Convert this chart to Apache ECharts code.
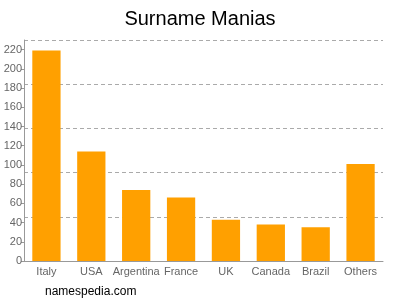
<!DOCTYPE html>
<html>
<head>
<meta charset="utf-8">
<script src="https://cdn.jsdelivr.net/npm/echarts@6/dist/echarts.min.js"></script>
<style>html,body{margin:0;padding:0;background:#fff}#c{width:400px;height:300px}</style>
</head>
<body>
<div id="c"></div>
<script>
var categories = ["Italy", "USA", "Argentina", "France", "UK", "Canada", "Brazil", "Others"];
var values = [219, 114, 74, 66, 43, 38, 35, 101];
var titleText = "Surname Manias";
var footerText = "namespedia.com";

var chart = echarts.init(document.getElementById('c'), null, {renderer: 'canvas'});
chart.setOption({
  animation: false,
  backgroundColor: '#fff',
  title: {
    text: titleText, left: 'center', top: 4,
    textStyle: {fontFamily: 'Liberation Sans, Arial, sans-serif', fontSize: 20, fontWeight: 'normal', color: '#000'}
  },
  graphic: [{
    type: 'text', left: 45, top: 286,
    style: {text: footerText, fontFamily: 'Liberation Sans, Arial, sans-serif', fontSize: 12, fill: '#000'}
  }],
  grid: {left: 24, right: 17, top: 40, bottom: 39, containLabel: false},
  xAxis: {
    type: 'category', data: categories,
    axisLine: {lineStyle: {color: '#999'}},
    axisTick: {alignWithLabel: true, length: 3, lineStyle: {color: '#999'}},
    axisLabel: {color: '#666', fontSize: 11, fontFamily: 'Liberation Sans, Arial, sans-serif', margin: 5, interval: 0}
  },
  yAxis: [{
    type: 'value', min: 0, max: 230, interval: 20,
    axisLine: {show: true, lineStyle: {color: '#999'}},
    axisTick: {show: true, length: 3, lineStyle: {color: '#999'}},
    axisLabel: {color: '#666', fontSize: 11, fontFamily: 'Liberation Sans, Arial, sans-serif', margin: 2, showMaxLabel: false},
    splitLine: {show: false}
  }, {
    type: 'value', min: 0, max: 230, interval: 46, position: 'left',
    axisLine: {show: false}, axisTick: {show: false}, axisLabel: {show: false},
    splitLine: {show: true, lineStyle: {color: '#aaa', type: [4, 3], width: 1}}
  }],
  series: [{
    type: 'bar', data: values, yAxisIndex: 0,
    barWidth: '63%',
    itemStyle: {color: '#ffa000'}
  }]
});
</script>
</body>
</html>
